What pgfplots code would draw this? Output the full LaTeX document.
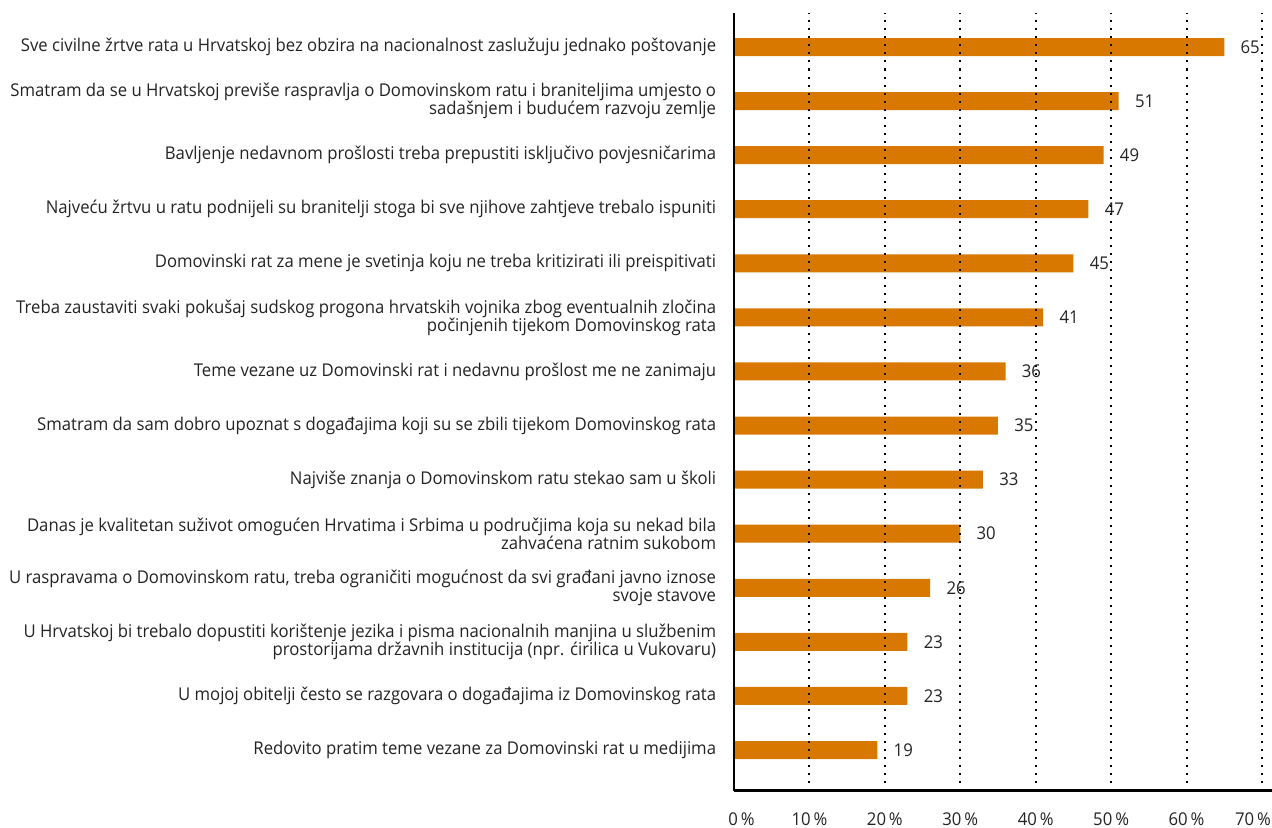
\documentclass[border=0pt]{standalone}
\usepackage{pgfplots}
\pgfplotsset{compat=1.18}
\usepackage{fontspec}
\setmainfont{Open Sans}[FakeStretch=0.95]
\definecolor{barorange}{RGB}{216,120,0}
\definecolor{txt}{RGB}{35,35,35}
\newcommand\lbl{\fontsize{8.8pt}{9pt}\selectfont}

\begin{document}
\begin{tikzpicture}
% page frame: axis box sits at the origin
\path[use as bounding box] (-367pt,-18.25pt) rectangle (269pt,395.25pt);
\begin{axis}[
  at={(0,0)}, anchor=south west,
  scale only axis,
  width=269pt, height=388.75pt,
  xbar, bar width=9pt,
  xmin=0, xmax=71.33,
  ymin=0.251, ymax=14.629,
  axis x line*=bottom, axis y line*=left,
  axis line style={line width=1.25pt, -, black},
  axis on top,
  major tick length=0pt,
  xtick={0,10,...,70},
  xticklabels={{\hspace*{7.5pt}0\,\%},10\,\%,20\,\%,30\,\%,40\,\%,50\,\%,60\,\%,{70\,\%\hspace*{9pt}}},
  xticklabel style={anchor=base, inner sep=0pt, yshift=-17.25pt, font=\lbl, text=txt},
  xmajorgrids,
  grid style={black, line width=1pt, dash pattern=on 1pt off 3pt},
  ytick={1,...,14},
  yticklabels={
    {Redovito pratim teme vezane za Domovinski rat u medijima},
    {U mojoj obitelji često se razgovara o događajima iz Domovinskog rata},
    {U Hrvatskoj bi trebalo dopustiti korištenje jezika i pisma nacionalnih manjina u službenim\\prostorijama državnih institucija (npr. ćirilica u Vukovaru)},
    {U raspravama o Domovinskom ratu, treba ograničiti mogućnost da svi građani javno iznose\\svoje stavove},
    {Danas je kvalitetan suživot omogućen Hrvatima i Srbima u područjima koja su nekad bila\\zahvaćena ratnim sukobom},
    {Najviše znanja o Domovinskom ratu stekao sam u školi},
    {Smatram da sam dobro upoznat s događajima koji su se zbili tijekom Domovinskog rata},
    {Teme vezane uz Domovinski rat i nedavnu prošlost me ne zanimaju},
    {Treba zaustaviti svaki pokušaj sudskog progona hrvatskih vojnika zbog eventualnih zločina\\počinjenih tijekom Domovinskog rata},
    {Domovinski rat za mene je svetinja koju ne treba kritizirati ili preispitivati},
    {Najveću žrtvu u ratu podnijeli su branitelji stoga bi sve njihove zahtjeve trebalo ispuniti},
    {Bavljenje nedavnom prošlosti treba prepustiti isključivo povjesničarima},
    {Smatram da se u Hrvatskoj previše raspravlja o Domovinskom ratu i braniteljima umjesto o\\sadašnjem i budućem razvoju zemlje},
    {Sve civilne žrtve rata u Hrvatskoj bez obzira na nacionalnost zaslužuju jednako poštovanje}
  },
  yticklabel style={align=right, anchor=east, inner sep=0pt, xshift=-8.75pt, font=\lbl, text=txt},
  nodes near coords,
  nodes near coords style={anchor=west, inner sep=0pt, xshift=8pt, font=\lbl, text=txt},
  /pgf/number format/assume math mode=true,
]
\addplot[fill=barorange, draw=none] coordinates {
  (65,14) (51,13) (49,12) (47,11) (45,10) (41,9) (36,8)
  (35,7) (33,6) (30,5) (26,4) (23,3) (23,2) (19,1)
};
\end{axis}
\end{tikzpicture}
\end{document}
